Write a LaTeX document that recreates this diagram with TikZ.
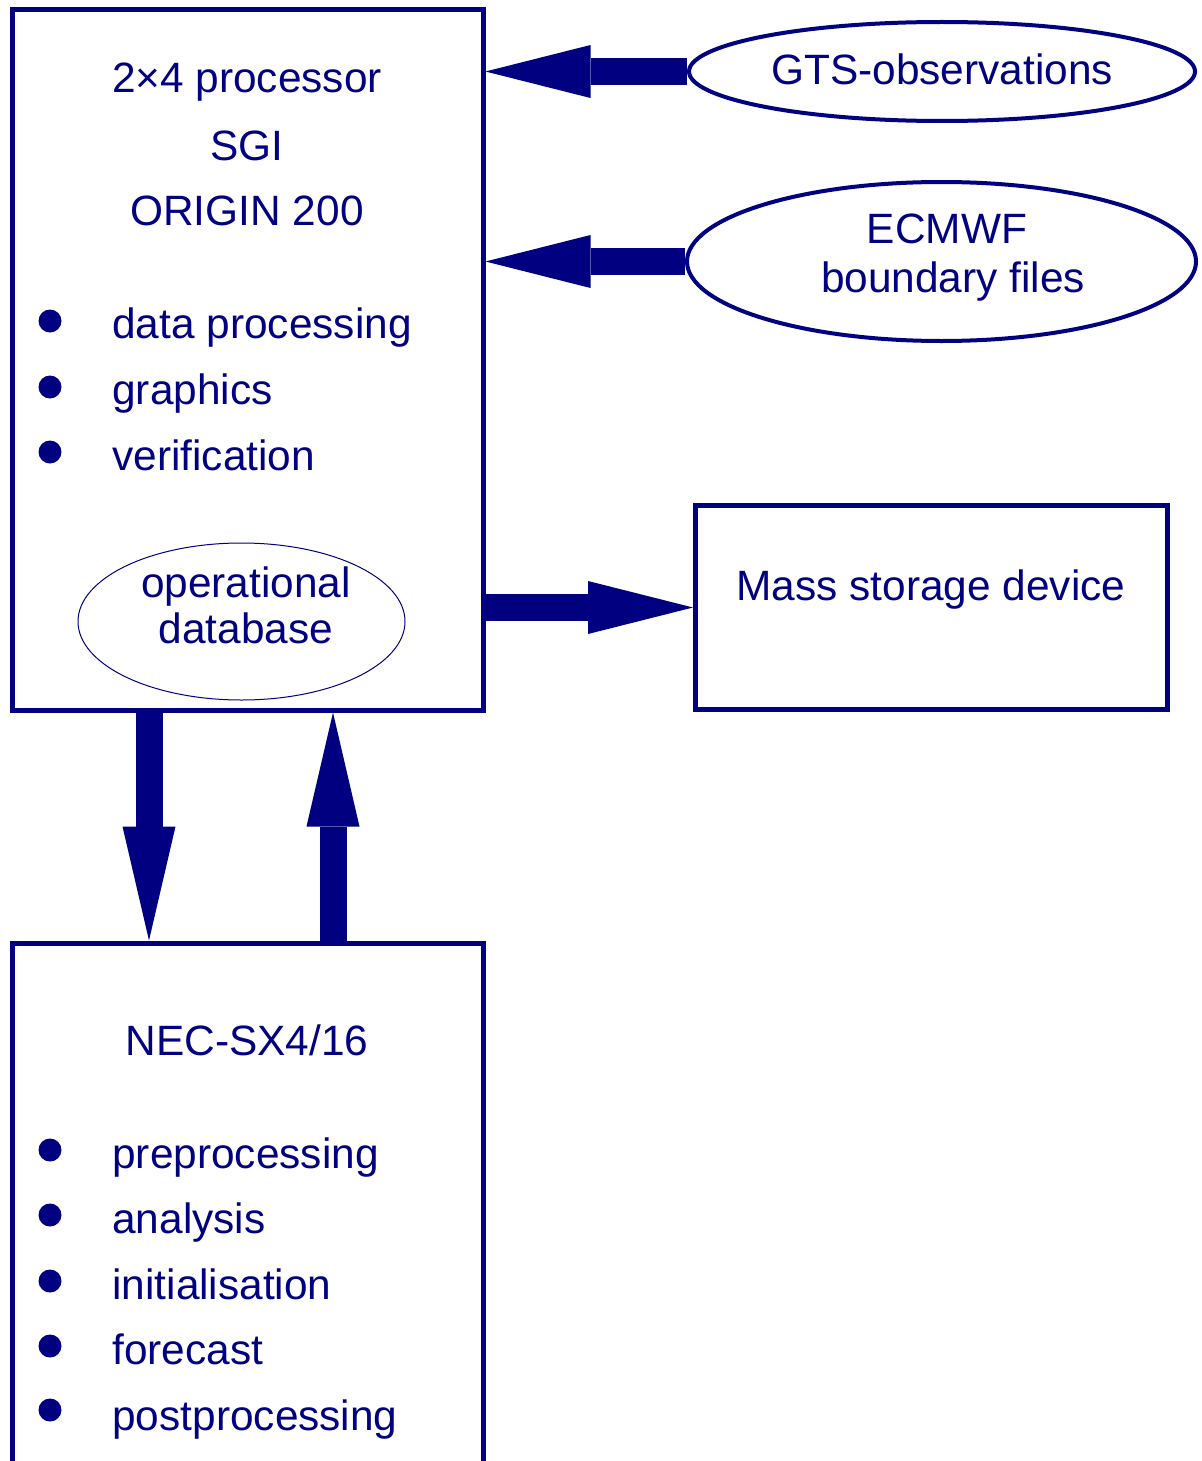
\documentclass[tikz,border=0pt]{standalone}
\usepackage{fontspec}
\setmainfont{Liberation Sans}
\usetikzlibrary{shapes}
\usetikzlibrary{arrows.meta}
\usetikzlibrary{calc}
\definecolor{dwd-blue}{HTML}{000080}

\begin{document}
\begin{tikzpicture}[x=0.5pt, y=-0.5pt, font=\fontsize{21.2}{25}\selectfont,
  every node/.style={text=dwd-blue},
  box/.style={draw=dwd-blue, line width=2.5pt, inner sep=0pt},
  oval/.style={draw=dwd-blue, ellipse, line width=2pt, inner sep=0pt},
  title/.style={anchor=base, inner sep=0pt},
  item/.style={anchor=base west, inner sep=0pt},
  dot/.style={circle, fill=dwd-blue, inner sep=0pt, minimum size=11.5pt},
  flow/.style={draw=dwd-blue, line width=13.5pt,
    -{Triangle[length=52.5pt, width=26.5pt, line width=0pt]}},
  vflow/.style={draw=dwd-blue, line width=13.5pt,
    -{Triangle[length=57pt, width=26.5pt, line width=0pt]}}]
\useasboundingbox (0,0) rectangle (1202,1461);
\clip (0,0) rectangle (1202,1461);

% computers
\node[box, minimum width=235.5pt, minimum height=350pt] (sgi) at (247.5,360) {};
\node[box, minimum width=235.5pt, minimum height=280pt] (nec) at (247.5,1223) {};
\node[box, minimum width=236pt, minimum height=102pt] (mass) at (931.5,607.5) {};

% inputs
\node[oval, minimum width=253pt, minimum height=49.5pt] (gts) at (942,71.5) {};
\node[oval, minimum width=254.5pt, minimum height=79.5pt] (ecmwf) at (941.5,261.5) {};
\node[oval, line width=0.5pt, minimum width=163.5pt, minimum height=78.5pt] (db) at (241.5,621.5) {};

% texts
\node[title] (sgi-cpu) at (247,93) {2×4 processor};
\node[title] (sgi-make) at (247,161) {SGI};
\node[title] (sgi-model) at (247,225) {ORIGIN 200};
\node[dot] (dot-proc) at (50,321) {};
\node[item] (sgi-proc) at (112,338) {data processing};
\node[dot] (dot-graph) at (50,387) {};
\node[item] (sgi-graph) at (112,404) {graphics};
\node[dot] (dot-verif) at (50,452) {};
\node[item] (sgi-verif) at (112,470) {verification};
\node[title] (db-l1) at (246,597) {operational};
\node[title] (db-l2) at (246,643) {database};

\node[title] (gts-text) at (942,85) {GTS-observations};
\node[title] (ecmwf-l1) at (947,243) {ECMWF};
\node[title] (ecmwf-l2) at (953,292) {boundary files};
\node[title] (mass-text) at (931,600) {Mass storage device};

\node[title] (nec-name) at (247,1055) {NEC-SX4/16};
\node[dot] (dot-pre) at (50,1150) {};
\node[item] (nec-pre) at (112,1168) {preprocessing};
\node[dot] (dot-ana) at (50,1215) {};
\node[item] (nec-ana) at (112,1233) {analysis};
\node[dot] (dot-ini) at (50,1281) {};
\node[item] (nec-ini) at (112,1299) {initialisation};
\node[dot] (dot-fc) at (50,1346) {};
\node[item] (nec-fc) at (112,1364) {forecast};
\node[dot] (dot-post) at (50,1410) {};
\node[item] (nec-post) at (112,1430) {postprocessing};

% data flow
\coordinate (down) at (149,0);
\coordinate (up) at (333,0);
\draw[flow] (gts.west) -- (gts.west -| sgi.east);
\draw[flow] (ecmwf.west) -- (ecmwf.west -| sgi.east);
\draw[flow] (sgi.east |- mass.west) -- (mass.west);
\draw[vflow] (sgi.south -| down) -- (nec.north -| down);
\draw[vflow] (nec.north -| up) -- (sgi.south -| up);
\end{tikzpicture}
\end{document}
